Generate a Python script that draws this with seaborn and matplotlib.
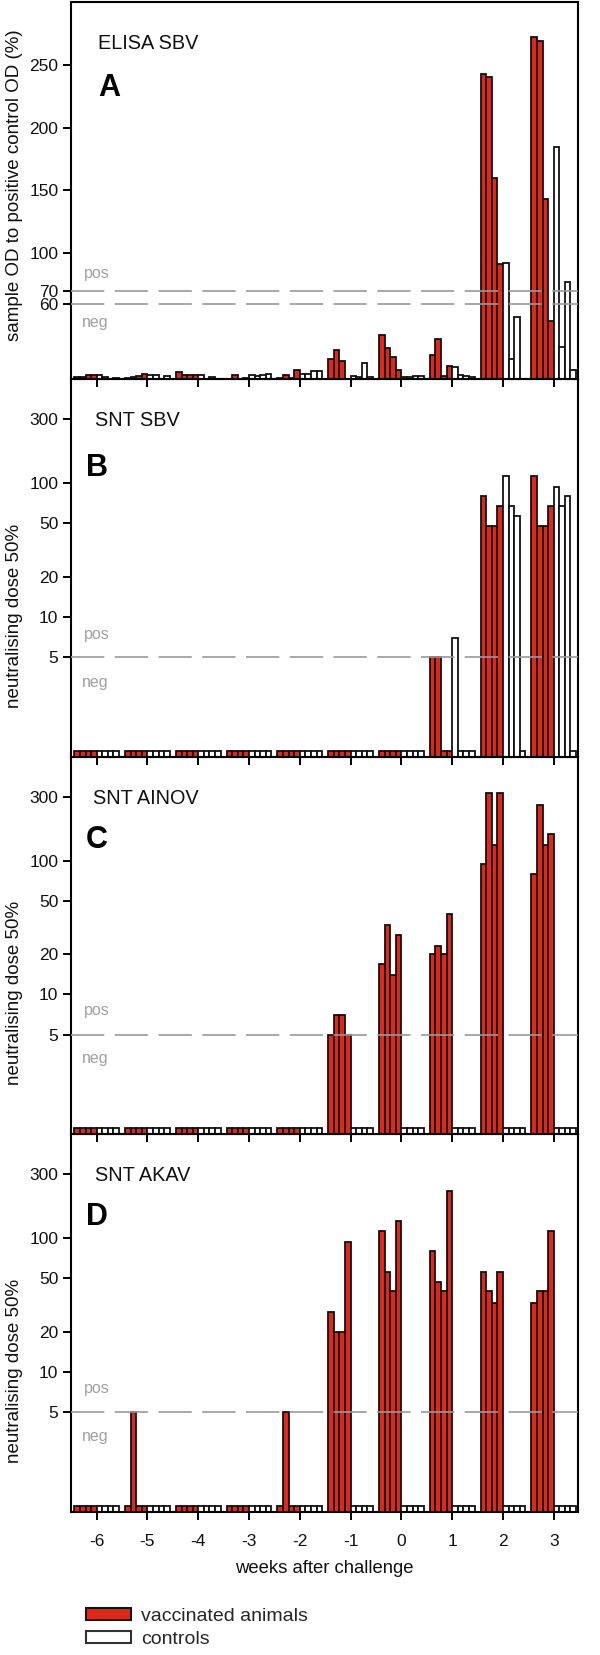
import numpy as np
import pandas as pd
import matplotlib
matplotlib.use("Agg")
import matplotlib.pyplot as plt
import seaborn as sns
from matplotlib.ticker import FixedLocator, NullLocator, FixedFormatter
from matplotlib.patches import Patch

# ---------------- data ----------------
weeks = [-6, -5, -4, -3, -2, -1, 0, 1, 2, 3]
groups = ["vaccinated animals", "controls"]

# A: ELISA SBV (sample OD to positive control OD, %)
elisa_vacc = [[1.5, 1.5, 3, 3], [0.5, 1.5, 2.5, 4], [5.5, 3, 3, 3], [0, 3.5, 0, 1],
              [1, 3.5, 0.5, 7.5], [15.8, 23.2, 14.7, 0], [35, 24.8, 17.4, 7],
              [19, 31.5, 2.2, 10.5], [243, 240, 160, 91.5], [272, 268.6, 143, 46.3]]
elisa_ctrl = [[3.5, 1.5, 0, 1], [3.5, 3.5, 0, 2], [3.5, 0, 1.5, 0], [3, 2.5, 3.5, 4],
              [4, 4, 6, 6.5], [2, 1.5, 12.7, 1.5], [1.5, 1.5, 2.2, 2],
              [9.6, 2.8, 2.2, 1.2], [92.5, 16.3, 49.5, 0], [185, 25.6, 77, 7]]

# B: SNT SBV
sbv_vacc = [[1, 1, 1, 1]] * 7 + [[5, 5, 1, 1], [80, 47.5, 47.5, 68], [113, 47.5, 47.5, 68]]
sbv_ctrl = [[1, 1, 1, 1]] * 7 + [[7, 1, 1, 1], [113, 68, 57, 1], [94, 68, 80, 1]]

# C: SNT AINOV
ainov_vacc = [[1, 1, 1, 1]] * 5 + [[5, 7, 7, 5], [17, 33, 14, 28], [20, 23, 20, 40],
                                   [94, 320, 132, 320], [80, 264, 132, 160]]
ainov_ctrl = [[1, 1, 1, 1]] * 10

# D: SNT AKAV
akav_vacc = [[1, 1, 1, 1], [1, 5, 1, 1], [1, 1, 1, 1], [1, 1, 1, 1], [1, 5, 1, 1],
             [28, 20, 20, 94], [113, 56, 40, 134], [80, 47, 40, 226],
             [56, 40, 33, 56], [33, 40, 40, 113]]
akav_ctrl = [[1, 1, 1, 1]] * 10

elisa_ticks = [60, 70, 100, 150, 200, 250]
snt_ticks = [5, 10, 20, 50, 100, 300]
week_labels = ["-6", "-5", "-4", "-3", "-2", "-1", "0", "1", "2", "3"]

# ---------------- style ----------------
RED = "#e0281a"
GREY = "#9a9a9a"
BAR_W = 0.11

sns.set_theme(style="ticks")
plt.rcParams["font.family"] = ["Liberation Sans", "DejaVu Sans"]
plt.rcParams["lines.scale_dashes"] = False

W_PX, H_PX = 600, 1655
fig = plt.figure(figsize=(W_PX / 100, H_PX / 100), dpi=100)
AX_L, AX_R = 71, 578
panels_px = [(2, 379), (379, 757), (757, 1134), (1134, 1512)]


def long_df(vacc, ctrl):
    rows = []
    for k, wk in enumerate(weeks):
        for i, v in enumerate(vacc[k]):
            rows.append(dict(week=wk, slot=i, group=groups[0], value=v))
        for i, v in enumerate(ctrl[k]):
            rows.append(dict(week=wk, slot=4 + i, group=groups[1], value=v))
    df = pd.DataFrame(rows)
    df["pos"] = np.round(df["week"] + (df["slot"] - 3.5) * BAR_W, 4)
    return df


specs = [
    dict(vacc=elisa_vacc, ctrl=elisa_ctrl, log=False, ylim=(0, 300), ticks=elisa_ticks,
         lines=[70, 60], title="ELISA SBV", letter="A",
         ylabel="sample OD to positive control OD (%)", ylab_y=0.515,
         title_x=0.054, letter_x=0.054, letter_y=0.772,
         pos_y=0.279, neg_y=0.151),
    dict(vacc=sbv_vacc, ctrl=sbv_ctrl, log=True, ylim=(0.9, 600), ticks=snt_ticks,
         lines=[5], title="SNT SBV", letter="B",
         ylabel="neutralising dose 50%", ylab_y=0.373,
         title_x=0.047, letter_x=0.030, letter_y=0.765,
         pos_y=0.325, neg_y=0.196),
    dict(vacc=ainov_vacc, ctrl=ainov_ctrl, log=True, ylim=(0.9, 600), ticks=snt_ticks,
         lines=[5], title="SNT AINOV", letter="C",
         ylabel="neutralising dose 50%", ylab_y=0.373,
         title_x=0.043, letter_x=0.030, letter_y=0.78,
         pos_y=0.327, neg_y=0.199),
    dict(vacc=akav_vacc, ctrl=akav_ctrl, log=True, ylim=(0.9, 600), ticks=snt_ticks,
         lines=[5], title="SNT AKAV", letter="D",
         ylabel="neutralising dose 50%", ylab_y=0.373,
         title_x=0.047, letter_x=0.030, letter_y=0.78,
         pos_y=0.327, neg_y=0.199),
]

axes = []
for (top, bot), sp in zip(panels_px, specs):
    ax = fig.add_axes([AX_L / W_PX, 1 - bot / H_PX, (AX_R - AX_L) / W_PX, (bot - top) / H_PX])
    ax.patch.set_alpha(0)
    if sp["log"]:
        ax.set_yscale("log")
    df = long_df(sp["vacc"], sp["ctrl"])
    sns.barplot(data=df, x="pos", y="value", hue="group", hue_order=groups,
                palette={groups[0]: RED, groups[1]: "white"}, native_scale=True,
                dodge=False, width=1.0, errorbar=None, edgecolor="#111111",
                linewidth=1.3, saturation=1, legend=False, ax=ax)
    ax.set_xlim(-6.506, 3.478)
    ax.set_ylim(*sp["ylim"])
    for yv in sp["lines"]:
        ax.axhline(yv, color=GREY, lw=1.2, dashes=(24, 7.5), zorder=5)
    ax.yaxis.set_major_locator(FixedLocator(sp["ticks"]))
    ax.yaxis.set_major_formatter(FixedFormatter([str(t) for t in sp["ticks"]]))
    ax.yaxis.set_minor_locator(NullLocator())
    ax.xaxis.set_major_locator(FixedLocator(weeks))
    ax.xaxis.set_major_formatter(FixedFormatter(week_labels))
    ax.xaxis.set_minor_locator(NullLocator())
    ax.tick_params(axis="both", direction="out", length=6, width=1.4,
                   labelsize=12.5, color="black", labelcolor="#111111", pad=3)
    for s in ax.spines.values():
        s.set_visible(True)
        s.set_linewidth(1.5)
        s.set_color("black")
    ax.set_xlabel("")
    ax.set_ylabel(sp["ylabel"], fontsize=13.5, color="#111111", va="center")
    ax.yaxis.set_label_coords(-0.112, sp["ylab_y"])
    ax.text(sp["title_x"], 0.889, sp["title"], transform=ax.transAxes, fontsize=14.3,
            ha="left", va="center", color="#111111")
    ax.text(sp["letter_x"], sp["letter_y"], sp["letter"], transform=ax.transAxes,
            fontsize=22, fontweight="bold", ha="left", va="center", color="black")
    ax.text(0.025, sp["pos_y"], "pos", transform=ax.transAxes, fontsize=11.5,
            color="#a0a0a0", ha="left", va="center")
    ax.text(0.021, sp["neg_y"], "neg", transform=ax.transAxes, fontsize=11.5,
            color="#a0a0a0", ha="left", va="center")
    ax.grid(False)
    axes.append(ax)

for ax in axes[:-1]:
    ax.tick_params(axis="x", labelbottom=False)
axes[-1].tick_params(axis="x", pad=10)
axes[-1].set_xlabel("weeks after challenge", fontsize=13.3, color="#111111", labelpad=8)

handles = [Patch(facecolor=RED, edgecolor="#151515", linewidth=1.5),
           Patch(facecolor="white", edgecolor="#333333", linewidth=1.5)]
fig.legend(handles=handles, labels=groups, loc="upper left",
           bbox_to_anchor=(86 / W_PX, 1 - 1608 / H_PX), frameon=False, fontsize=14,
           handlelength=2.3, handleheight=0.56, handletextpad=0.55,
           labelspacing=0.3, borderpad=0, borderaxespad=0)

fig.savefig("out.png", dpi=100)
